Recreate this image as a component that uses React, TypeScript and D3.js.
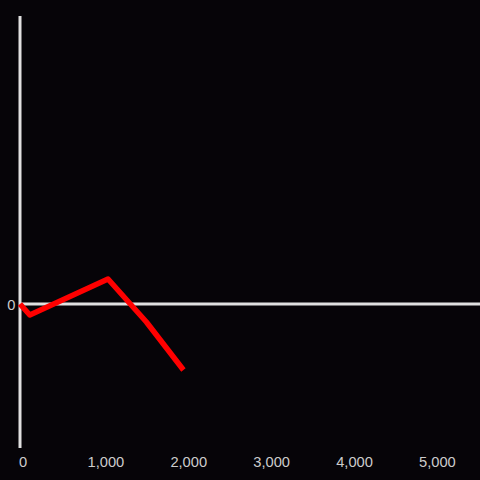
import React from "react";
import * as d3 from "d3";

const xValues = [0, 118, 1062, 1525, 1972];
const yValues = [0, -11, 25, -18, -66];
const xTicks = [0, 1000, 2000, 3000, 4000, 5000];
const yTicks = [0];

const W = 480;
const H = 480;

export default function App() {
  const x = d3.scaleLinear().domain([0, 5550]).range([20, 480]);
  const y = d3.scaleLinear().domain([-144, 288]).range([448, 16]);
  const pts: [number, number][] = xValues.map((v, i) => [v, yValues[i]]);
  const line = d3
    .line<[number, number]>()
    .x((d) => x(d[0]))
    .y((d) => y(d[1]));
  const fmt = d3.format(",");
  return (
    <svg
      width={W}
      height={H}
      style={{ position: "fixed", left: 0, top: 0, display: "block", background: "#060408" }}
    >
      <rect x={0} y={0} width={W} height={H} fill="#060408" />
      <line x1={x(0)} x2={x(0)} y1={y(288)} y2={y(-144)} stroke="#e0e0e0" strokeWidth={3} />
      <line x1={x(0)} x2={W} y1={y(0)} y2={y(0)} stroke="#e0e0e0" strokeWidth={3} />
      {yTicks.map((t) => (
        <text
          key={t}
          x={15.5}
          y={y(t) + 0.5}
          textAnchor="end"
          dominantBaseline="central"
          fill="#cccccc"
          fontFamily="Liberation Sans, Arial, sans-serif"
          fontSize={14.7}
        >
          {fmt(t)}
        </text>
      ))}
      {xTicks.map((t) => (
        <text
          key={t}
          x={x(t) + 3}
          y={461.5}
          textAnchor="middle"
          dominantBaseline="central"
          fill="#cccccc"
          fontFamily="Liberation Sans, Arial, sans-serif"
          fontSize={14.7}
        >
          {fmt(t)}
        </text>
      ))}
      <path d={line(pts) || ""} fill="none" stroke="#ff0000" strokeWidth={5.5} strokeLinejoin="round" />
    </svg>
  );
}
